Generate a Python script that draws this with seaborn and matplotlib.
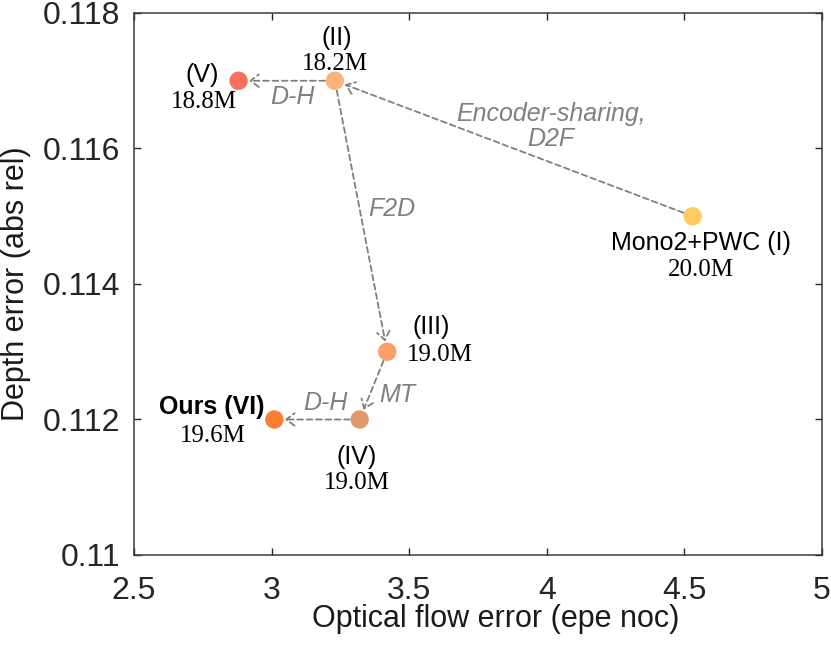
import matplotlib
matplotlib.use("Agg")
import matplotlib.pyplot as plt
import seaborn as sns
import pandas as pd

# ---- data ----
names = ["Mono2+PWC (I)", "(II)", "(III)", "(IV)", "(V)", "Ours (VI)"]
flow_err = [4.53, 3.23, 3.42, 3.32, 2.88, 3.01]
depth_err = [0.115, 0.117, 0.113, 0.112, 0.117, 0.112]
params = ["20.0M", "18.2M", "19.0M", "19.0M", "18.8M", "19.6M"]
colors = ["#FECB61", "#FDB27C", "#FC9E6A", "#DF9A6B", "#F7705E", "#FB7F31"]
edge_from = [0, 1, 1, 2, 3]
edge_to = [1, 4, 2, 3, 5]
edge_labels = ["Encoder-sharing,\nD2F", "D-H", "F2D", "MT", "D-H"]
x_ticks = [2.5, 3.0, 3.5, 4.0, 4.5, 5.0]
x_tick_labels = ["2.5", "3", "3.5", "4", "4.5", "5"]
y_ticks = [0.110, 0.112, 0.114, 0.116, 0.118]
y_tick_labels = ["0.11", "0.112", "0.114", "0.116", "0.118"]

# ---- layout / style (offsets in points) ----
name_off = [(6, -19), (1, 31), (32, 18), (-2, -27), (-26, 4), (-45, 9)]
param_off = [(6, -39), (0, 12), (38, -2), (-2, -46), (-25, -15), (-44, -12)]
edge_off = [(27, 16), (4, -12), (22, 5), (17, -7), (6, 12)]

df = pd.DataFrame({"name": names, "flow": flow_err, "depth": depth_err})

sns.set_style("ticks")
plt.rcParams["font.family"] = ["Liberation Sans", "DejaVu Sans"]

fig = plt.figure(figsize=(8.31, 6.49), dpi=100)
ax = fig.add_axes([134 / 831, 1 - 555 / 649, 688 / 831, 542 / 649])

sns.scatterplot(data=df, x="flow", y="depth", hue="name", palette=colors,
                hue_order=names, s=175, linewidth=0, legend=False, ax=ax, zorder=3)

gray = "#808080"
for f, t, lab, off in zip(edge_from, edge_to, edge_labels, edge_off):
    ax.annotate("", xy=(flow_err[t], depth_err[t]), xytext=(flow_err[f], depth_err[f]),
                zorder=2,
                arrowprops=dict(arrowstyle="->,head_length=0.6,head_width=0.45",
                                mutation_scale=10, color=gray, lw=1.3,
                                linestyle=(0, (3.2, 2)), shrinkA=7, shrinkB=7.5))
    mx = (flow_err[f] + flow_err[t]) / 2
    my = (depth_err[f] + depth_err[t]) / 2
    ax.annotate(lab, xy=(mx, my), xytext=off, textcoords="offset points",
                ha="center", va="center", fontsize=18, style="italic", color=gray,
                linespacing=1.05)

for i in range(len(names)):
    ax.annotate(names[i], xy=(flow_err[i], depth_err[i]), xytext=name_off[i],
                textcoords="offset points", ha="center", va="center", fontsize=18,
                color="black", fontweight="bold" if names[i].startswith("Ours") else "normal")
    ax.annotate(params[i], xy=(flow_err[i], depth_err[i]), xytext=param_off[i],
                textcoords="offset points", ha="center", va="center", fontsize=18,
                color="black", family="Liberation Serif")

ax.set_xlim(x_ticks[0], x_ticks[-1])
ax.set_ylim(y_ticks[0], y_ticks[-1])
ax.set_xticks(x_ticks)
ax.set_xticklabels(x_tick_labels)
ax.set_yticks(y_ticks)
ax.set_yticklabels(y_tick_labels)
ax.tick_params(direction="in", length=5, width=1, top=True, right=True,
               labelsize=23, colors="#262626", labelcolor="#262626")
ax.tick_params(axis="x", pad=15)
ax.tick_params(axis="y", pad=10)
for sp in ax.spines.values():
    sp.set_visible(True)
    sp.set_color("#3a3a3a")
    sp.set_linewidth(1.1)

ax.set_xlabel("Optical flow error (epe noc)", fontsize=22, color="#1a1a1a")
ax.set_ylabel("Depth error (abs rel)", fontsize=22, color="#1a1a1a")
ax.xaxis.set_label_coords((496 - 134) / 688, -(604 - 555) / 542)
ax.yaxis.set_label_coords((31 - 134) / 688, 0.5)

fig.savefig("out.png", dpi=100)
